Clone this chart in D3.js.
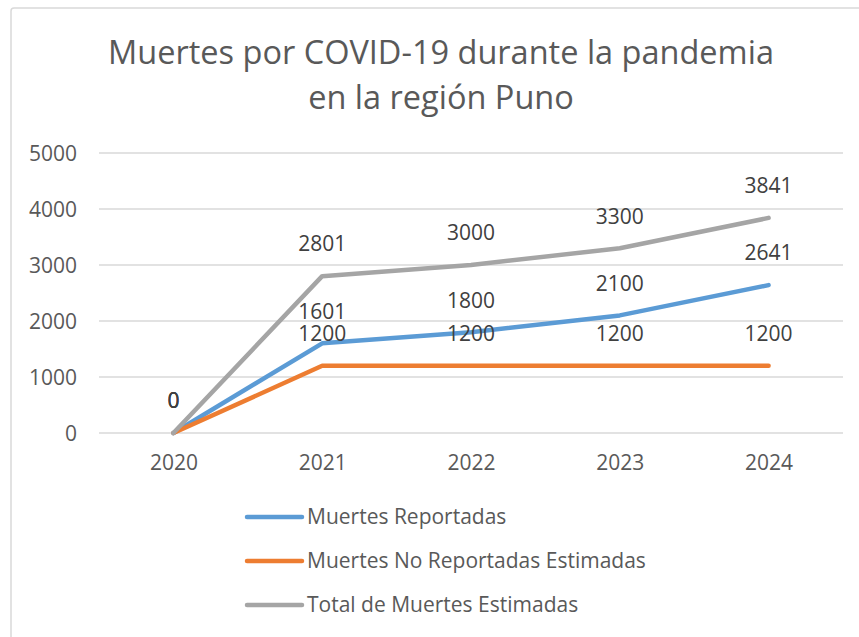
<!DOCTYPE html>
<html>
<head>
<meta charset="utf-8">
<script src="https://cdn.jsdelivr.net/npm/d3@7"></script>
<style>
  body { margin: 0; background: #fff; }
  text { font-family: "Open Sans", "DejaVu Sans", sans-serif; }
</style>
</head>
<body>
<div id="chart"></div>
<script>
// data
var years = ["2020", "2021", "2022", "2023", "2024"];
var reportadas = [0, 1601, 1800, 2100, 2641];
var noReportadas = [0, 1200, 1200, 1200, 1200];
var totalEstimadas = [0, 2801, 3000, 3300, 3841];
var seriesNames = ["Muertes Reportadas", "Muertes No Reportadas Estimadas", "Total de Muertes Estimadas"];
var seriesColors = ["#5B9BD5", "#ED7D31", "#A5A5A5"];
var yTicks = [0, 1000, 2000, 3000, 4000, 5000];
var titleLines = ["Muertes por COVID-19 durante la pandemia", "en la región Puno"];

var W = 859, H = 637;
var plot = { left: 99, right: 843, top: 153, bottom: 433 };
var fontSize = "21px";

var svg = d3.select("#chart").append("svg").attr("width", W).attr("height", H);

// chart frame (runs off the right and bottom edge)
svg.append("rect")
  .attr("x", 11).attr("y", 8).attr("width", W + 20).attr("height", H + 20)
  .attr("rx", 3)
  .style("fill", "#fff").style("stroke", "#D9D9D9").style("stroke-width", 1.5);

// title
svg.append("g").selectAll("text").data(titleLines).enter().append("text")
  .attr("x", 441)
  .attr("y", function (d, i) { return 64 + i * 45; })
  .attr("text-anchor", "middle")
  .style("font-size", "32.5px")
  .style("fill", "#595959")
  .text(function (d) { return d; });

var x = d3.scalePoint().domain(years).range([plot.left, plot.right]).padding(0.5);
var y = d3.scaleLinear().domain([0, 5000]).range([plot.bottom, plot.top]);

// gridlines
svg.append("g").selectAll("line").data(yTicks).enter().append("line")
  .attr("x1", plot.left).attr("x2", plot.right)
  .attr("y1", function (d) { return y(d); }).attr("y2", function (d) { return y(d); })
  .style("stroke", "#D9D9D9").style("stroke-width", 1.3);

// y axis
var yAxis = svg.append("g")
  .attr("transform", "translate(" + 77 + ",0)")
  .call(d3.axisLeft(y).tickValues(yTicks).tickSize(0).tickPadding(0).tickFormat(d3.format("d")));
yAxis.select(".domain").remove();
yAxis.selectAll("text").style("font-size", fontSize).style("fill", "#595959").attr("dy", "0.35em");

// x axis
var xAxis = svg.append("g")
  .attr("transform", "translate(0," + 463 + ")")
  .call(d3.axisBottom(x).tickSize(0).tickPadding(0));
xAxis.select(".domain").remove();
xAxis.selectAll("text").style("font-size", fontSize).style("fill", "#595959").attr("dy", "0.35em");

var series = [reportadas, noReportadas, totalEstimadas].map(function (vals, i) {
  return {
    name: seriesNames[i],
    color: seriesColors[i],
    values: vals.map(function (v, j) { return { year: years[j], value: v }; })
  };
});

var line = d3.line()
  .x(function (d) { return x(d.year); })
  .y(function (d) { return y(d.value); });

// draw in series order: first series at the bottom
svg.append("g").selectAll("path").data(series).enter().append("path")
  .attr("d", function (d) { return line(d.values); })
  .style("fill", "none")
  .style("stroke", function (d) { return d.color; })
  .style("stroke-width", 4.5)
  .style("stroke-linecap", "round")
  .style("stroke-linejoin", "round");

// data labels above each point
var labels = svg.append("g");
series.forEach(function (s) {
  labels.selectAll(null).data(s.values).enter().append("text")
    .attr("x", function (d) { return x(d.year); })
    .attr("y", function (d) { return y(d.value) - 32; })
    .attr("dy", "0.35em")
    .attr("text-anchor", "middle")
    .style("font-size", fontSize)
    .style("fill", "#404040")
    .text(function (d) { return d.value; });
});

// legend
var legend = svg.append("g").selectAll("g").data(series).enter().append("g")
  .attr("transform", function (d, i) { return "translate(247," + (517 + i * 44) + ")"; });
legend.append("line")
  .attr("x1", 0).attr("x2", 55).attr("y1", 0).attr("y2", 0)
  .style("stroke", function (d) { return d.color; })
  .style("stroke-width", 4.5)
  .style("stroke-linecap", "round");
legend.append("text")
  .attr("x", 60).attr("y", 0).attr("dy", "0.35em")
  .style("font-size", fontSize)
  .style("fill", "#595959")
  .text(function (d) { return d.name; });
</script>
</body>
</html>
